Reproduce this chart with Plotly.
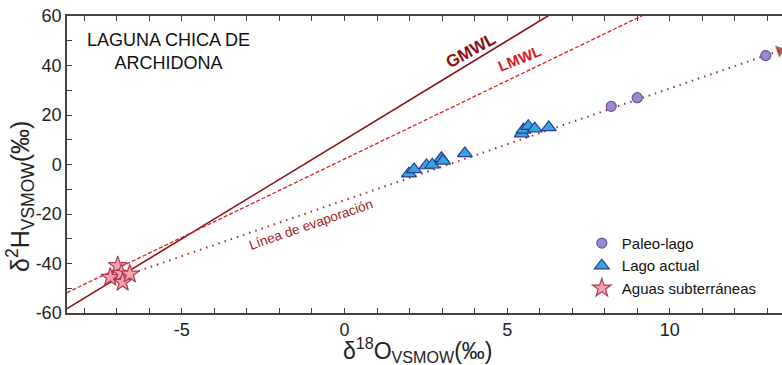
import plotly.graph_objects as go

# ---- data ----
paleo_x = [8.2, 9.0, 12.95]
paleo_y = [23.5, 27.0, 44.0]

lago_x = [1.98, 2.14, 2.52, 2.70, 2.98, 3.03, 3.70, 5.45, 5.50, 5.65, 5.85, 6.28]
lago_y = [-3.7, -2.0, -0.4, -0.1, 2.5, 1.5, 4.5, 12.5, 14.0, 15.5, 14.5, 15.0]

agua_x = [-7.2, -6.97, -6.86, -6.82, -6.6]
agua_y = [-45.6, -40.9, -44.0, -47.6, -44.3]

x_range = [-8.53, 13.45]
y_range = [-60, 60]
x_ticks = [-5, 0, 5, 10]
x_ticklabels = ["-5", "0", "5", "10"]
y_ticks = [-60, -40, -20, 0, 20, 40, 60]
y_ticklabels = ["-60", "-40", "-20", "0", "20", "40", "60"]

gmwl_slope, gmwl_int = 8.0, 10.0
lmwl_slope, lmwl_int = 6.33, 2.2
evap_x = [-6.9, 13.38]
evap_y = [-45.6, 46.0]

line_x = [x_range[0], x_range[1]]
gmwl_y = [gmwl_slope * v + gmwl_int for v in line_x]
lmwl_y = [lmwl_slope * v + lmwl_int for v in line_x]

FONT = "Liberation Sans, Arial, sans-serif"
AXC = "#4a4242"

fig = go.Figure()

fig.add_trace(go.Scatter(x=line_x, y=gmwl_y, mode="lines",
                         line=dict(color="#8b1414", width=1.6), showlegend=False, hoverinfo="skip"))
fig.add_trace(go.Scatter(x=line_x, y=lmwl_y, mode="lines",
                         line=dict(color="#e0201e", width=1.3, dash="4px,2px"), showlegend=False, hoverinfo="skip"))
fig.add_trace(go.Scatter(x=evap_x, y=evap_y, mode="lines+markers",
                         line=dict(color="#9b2f2f", width=2, dash="1.5px,5px"),
                         marker=dict(symbol="triangle-up", size=[0, 11], angleref="previous",
                                     color="#8b1414", line=dict(width=0)),
                         showlegend=False, hoverinfo="skip"))

fig.add_trace(go.Scatter(x=paleo_x, y=paleo_y, mode="markers", name="Paleo-lago",
                         marker=dict(symbol="circle", size=10, color="#9a8cc8",
                                     line=dict(color="#6b4fb0", width=1.2))))
fig.add_trace(go.Scatter(x=lago_x, y=lago_y, mode="markers", name="Lago actual",
                         marker=dict(symbol="triangle-up", size=13, color="#35a6d6",
                                     line=dict(color="#2a3a9c", width=1.2))))
fig.add_trace(go.Scatter(x=agua_x, y=agua_y, mode="markers", name="Aguas subterráneas",
                         marker=dict(symbol="star", size=14, color="#f5a3ad",
                                     line=dict(color="#b23a55", width=1.2))))

annots = [
    dict(x=0.142, y=0.879, xref="paper", yref="paper", xanchor="center", yanchor="middle",
         text="LAGUNA CHICA DE<br>ARCHIDONA",
         showarrow=False, font=dict(size=18, color="#111", family=FONT)),
    dict(x=3.9, y=46.0, text="<b>GMWL</b>", showarrow=False, textangle=-29,
         font=dict(size=17, color="#8b1010", family=FONT)),
    dict(x=5.38, y=43.0, text="<b>LMWL</b>", showarrow=False, textangle=-22,
         font=dict(size=15, color="#d81b1b", family=FONT)),
    dict(x=-1.03, y=-24.3, text="Línea de evaporación", showarrow=False, textangle=-19,
         font=dict(size=13.5, color="#9b2020", family=FONT)),
    dict(x=(20 - 67) / 715, y=(313 - 197) / 297, xref="paper", yref="paper",
         xanchor="center", yanchor="middle",
         text="δ<sup>2</sup>H<sub>VSMOW</sub>(‰)", textangle=-90, showarrow=False,
         font=dict(size=25, color="#222", family=FONT)),
    dict(x=(418 - 67) / 715, y=-(350 - 313) / 297, xref="paper", yref="paper",
         xanchor="center", yanchor="middle",
         text="δ<sup>18</sup>O<sub>VSMOW</sub>(‰)", showarrow=False,
         font=dict(size=23, color="#222", family=FONT)),
]

fig.update_layout(
    width=782, height=365,
    margin=dict(l=67, r=0, t=16, b=52),
    paper_bgcolor="white", plot_bgcolor="white",
    font=dict(family=FONT, color="#222"),
    annotations=annots,
    legend=dict(x=0.72, y=0.29, xanchor="left", yanchor="top",
                bgcolor="rgba(0,0,0,0)", font=dict(size=15, color="#111", family=FONT),
                itemwidth=30, tracegroupgap=0),
    xaxis=dict(range=x_range, showgrid=False, zeroline=False,
               showline=True, linecolor=AXC, linewidth=1.5, mirror="allticks",
               ticks="inside", ticklen=5, tickcolor=AXC, tickwidth=1,
               tickmode="array", tickvals=x_ticks, ticktext=x_ticklabels,
               tickfont=dict(size=18, color="#222"),
               minor=dict(ticks="inside", ticklen=5, tickcolor=AXC, dtick=1, tick0=0)),
    yaxis=dict(range=y_range, showgrid=False, zeroline=False,
               showline=True, linecolor=AXC, linewidth=1.5,
               ticks="inside", ticklen=5, tickcolor=AXC, tickwidth=1,
               tickmode="array", tickvals=y_ticks, ticktext=y_ticklabels,
               tickfont=dict(size=18, color="#222"),
               minor=dict(ticks="inside", ticklen=5, tickcolor=AXC, dtick=10, tick0=0)),
)

fig.write_html("out.html")
